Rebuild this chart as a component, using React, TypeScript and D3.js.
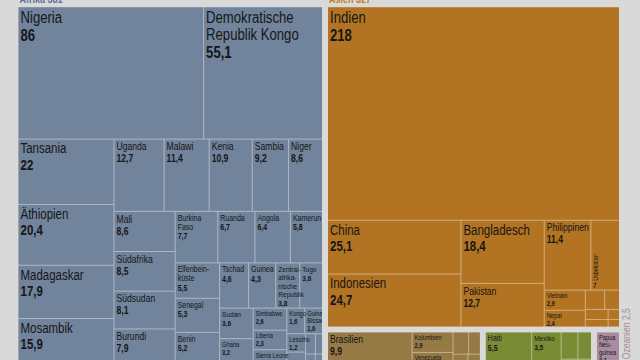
import React, { useMemo } from 'react';
import * as d3 from 'd3';

const WIDTH = 640;
const HEIGHT = 360;

// plot area of the treemap (bottom runs slightly past the picture)
const chartX = 18.5;
const chartY = 7.3;
const chartW = 600.5;
const chartH = 358;
const GAP = 6;

// only regular Liberation Sans is around, so squeeze it to a narrow face
const FONT = "'Liberation Sans', Arial, sans-serif";
const SX = 0.82;

// continents
const continents = ['Afrika', 'Asien', 'Südamerika', 'Nordamerika', 'Ozeanien'];
const continentTotals = [381, 327, null, null, 2.5];
const continentColors = ['#71849c', '#b27422', '#957a45', '#7a8b35', '#a88b9f'];
const headerColors = ['#5b7291', '#c27d24', '#8a7040', '#6f8030', '#a48c9c'];

// "|" marks a line break in the label
const afrikaNames = [
  'Nigeria', 'Demokratische|Republik Kongo', 'Tansania', 'Äthiopien', 'Madagaskar', 'Mosambik',
  'Uganda', 'Malawi', 'Kenia', 'Sambia', 'Niger', 'Mali', 'Südafrika', 'Südsudan', 'Burundi',
  'Burkina|Faso', 'Ruanda', 'Angola', 'Kamerun', 'Elfenbein-|küste', 'Senegal', 'Benin',
  'Tschad', 'Guinea', 'Zentral-|afrika-|nische|Republik', 'Togo', 'Sudan', 'Ghana',
  'Simbabwe', 'Liberia', 'Sierra Leone', 'Kongo', 'Guinea-|Bissau', 'Lesotho', '', '', '', '', '',
];
const afrikaValues = [
  86, 55.1, 22, 20.4, 17.9, 15.9,
  12.7, 11.4, 10.9, 9.2, 8.6, 8.6, 8.5, 8.1, 7.9,
  7.7, 6.7, 6.4, 5.8, 5.5, 5.3, 5.2,
  4.6, 4.3, 3.8, 3.6, 3.6, 3.2,
  2.6, 2.3, 1.9, 1.6, 1.6, 1.2, 0.9, 0.7, 0.5, 0.4, 0.3,
];

const asienNames = [
  'Indien', 'China', 'Indonesien', 'Bangladesch', 'Pakistan', 'Philippinen', 'Usbekistan',
  'Vietnam', 'Nepal', '', '', '', '', '', '',
];
const asienValues = [218, 25.1, 24.7, 18.4, 12.7, 11.4, 7, 2.9, 2.4, 1.3, 1.0, 0.8, 0.6, 0.4, 0.3];

const suedamerikaNames = ['Brasilien', 'Kolumbien', 'Venezuela', '', '', '', '', ''];
const suedamerikaValues = [9.9, 2.9, 1.9, 1.2, 0.9, 0.6, 0.3, 0.2];

const nordamerikaNames = ['Haiti', 'Mexiko', '', '', '', ''];
const nordamerikaValues = [5.5, 3.5, 1.6, 1.3, 0.4, 0.3];

const ozeanienNames = ['Papua|Neu-|guinea', '', '', ''];
const ozeanienValues = [2.1, 0.2, 0.1, 0.1];

const cellNames = [afrikaNames, asienNames, suedamerikaNames, nordamerikaNames, ozeanienNames];
const cellValues = [afrikaValues, asienValues, suedamerikaValues, nordamerikaValues, ozeanienValues];

const rotatedLabels = new Set(['Usbekistan']);

const fmt = (v: number) => String(v).replace('.', ',');

const fontSize = (v: number) => {
  if (v >= 50) return 16;
  if (v >= 15) return 14;
  if (v >= 7.8) return 10.5;
  if (v >= 3.9) return 8.5;
  if (v >= 3.4) return 8;
  return 7;
};

// d3's squarify, but nearly-square leftovers get a row on top instead of a column
const BIAS = 1.04;
const PHI = (1 + Math.sqrt(5)) / 2;
function squarifyRows(parent: any, x0: number, y0: number, x1: number, y1: number) {
  const nodes = parent.children;
  const n = nodes.length;
  let i0 = 0, i1 = 0, value = parent.value;
  while (i0 < n) {
    const dx = x1 - x0, dy = y1 - y0;
    let sumValue = 0, nodeValue = 0;
    do sumValue = nodes[i1++].value; while (!sumValue && i1 < n);
    let minValue = sumValue, maxValue = sumValue;
    const alpha = Math.max(dy / dx, dx / dy) / (value * PHI);
    let beta = sumValue * sumValue * alpha;
    let minRatio = Math.max(maxValue / beta, beta / minValue);
    for (; i1 < n; ++i1) {
      sumValue += nodeValue = nodes[i1].value;
      if (nodeValue < minValue) minValue = nodeValue;
      if (nodeValue > maxValue) maxValue = nodeValue;
      beta = sumValue * sumValue * alpha;
      const newRatio = Math.max(maxValue / beta, beta / minValue);
      if (newRatio > minRatio) { sumValue -= nodeValue; break; }
      minRatio = newRatio;
    }
    const row: any = { value: sumValue, children: nodes.slice(i0, i1) };
    if (dx < dy * BIAS) d3.treemapDice(row, x0, y0, x1, dy ? (y0 += dy * sumValue / value) : y1);
    else d3.treemapSlice(row, x0, y0, dx ? (x0 += dx * sumValue / value) : x1, y1);
    value -= sumValue;
    i0 = i1;
  }
}

type Cell = { name: string; value: number; x0: number; y0: number; x1: number; y1: number };

const Txt: React.FC<{ x: number; y: number; fs: number; bold?: boolean; fill?: string; rotate?: boolean; children: React.ReactNode }> = ({ x, y, fs, bold, fill = '#161616', rotate, children }) => (
  <text
    transform={`translate(${x},${y})${rotate ? ' rotate(-90)' : ''} scale(${SX},1)`}
    fontSize={fs}
    fontWeight={bold ? 700 : 400}
    fill={fill}
  >
    {children}
  </text>
);

const App: React.FC = () => {
  const blocks = useMemo(() => {
    const top = d3
      .hierarchy<any>({ children: continents.map((name, i) => ({ name, i, value: d3.sum(cellValues[i]) })) })
      .sum((d: any) => (d.children ? 0 : d.value));
    d3.treemap<any>().tile(d3.treemapSquarify).size([chartW, chartH])(top);

    return top.leaves().map((n: any) => {
      const i = n.data.i;
      const x0 = chartX + n.x0;
      const y0 = chartY + n.y0;
      let x1 = chartX + n.x1;
      let y1 = chartY + n.y1;
      // gap is taken from the side that faces a neighbour
      if (n.x1 < chartW - 0.5) x1 -= GAP;
      if (n.y1 < chartH - 0.5) y1 -= GAP;

      const inner = d3
        .hierarchy<any>({ children: cellNames[i].map((name, j) => ({ name, value: cellValues[i][j] })) })
        .sum((d: any) => (d.children ? 0 : d.value));
      d3.treemap<any>().tile(squarifyRows as any).size([x1 - x0, y1 - y0]).paddingInner(1)(inner);

      const cells: Cell[] = inner.leaves().map((c: any) => ({
        name: c.data.name,
        value: c.data.value,
        x0: x0 + c.x0,
        y0: y0 + c.y0,
        x1: x0 + c.x1,
        y1: y0 + c.y1,
      }));
      return { i, x0, y0, x1, y1, cells };
    });
  }, []);

  const renderLabel = (c: Cell, key: string) => {
    if (!c.name) return null;
    const fs = fontSize(c.value);
    const lines = c.name.split('|');

    if (rotatedLabels.has(c.name)) {
      const rfs = 6.5;
      return (
        <g key={key}>
          <Txt x={c.x0 + rfs + 0.5} y={c.y1 - 9} fs={rfs} rotate>{c.name}</Txt>
          <Txt x={c.x0 + 2} y={c.y1 - 2} fs={rfs} bold>{fmt(c.value)}</Txt>
        </g>
      );
    }

    const x = c.x0 + 2;
    const first = c.y0 + fs * 0.92 + 1;
    const lastName = first + (lines.length - 1) * fs * 1.05;
    return (
      <g key={key}>
        {lines.map((l, k) => (
          <Txt key={k} x={x} y={first + k * fs * 1.05} fs={fs}>{l}</Txt>
        ))}
        <Txt x={x} y={lastName + fs * 1.15} fs={fs} bold>{fmt(c.value)}</Txt>
      </g>
    );
  };

  return (
    <div style={{ position: 'fixed', left: 0, top: 0 }}>
      <svg width={WIDTH} height={HEIGHT} style={{ display: 'block', fontFamily: FONT }}>
        <rect width={WIDTH} height={HEIGHT} fill="#d9d9d9" />
        <defs>
          {blocks.map(b => (
            <clipPath key={b.i} id={`clip-${b.i}`}>
              <rect x={b.x0} y={b.y0} width={b.x1 - b.x0} height={b.y1 - b.y0} />
            </clipPath>
          ))}
        </defs>

        {blocks.map(b => {
          const color = continentColors[b.i];
          const lineColor = d3.interpolateRgb(color, '#ffffff')(0.42);
          return (
            <g key={b.i}>
              <rect x={b.x0} y={b.y0} width={b.x1 - b.x0} height={b.y1 - b.y0} fill={lineColor} />
              {b.cells.map((c, k) => (
                <rect key={k} x={c.x0} y={c.y0} width={Math.max(0, c.x1 - c.x0)} height={Math.max(0, c.y1 - c.y0)} fill={color} />
              ))}
              <g clipPath={`url(#clip-${b.i})`}>
                {b.cells.map((c, k) => renderLabel(c, `l${k}`))}
              </g>
            </g>
          );
        })}

        {/* continent headers */}
        {blocks.map(b => {
          const total = continentTotals[b.i];
          if (total === null) return null;
          const label = `${continents[b.i]} ${fmt(total)}`;
          if (continents[b.i] === 'Ozeanien') {
            return (
              <Txt key={`h${b.i}`} x={b.x1 + 11} y={b.y1 - 6} fs={10.5} fill={headerColors[b.i]} rotate>
                {label}
              </Txt>
            );
          }
          return (
            <Txt key={`h${b.i}`} x={b.x0 + 1} y={b.y0 - 4.5} fs={11} bold fill={headerColors[b.i]}>
              {label}
            </Txt>
          );
        })}
      </svg>
    </div>
  );
};

export default App;
